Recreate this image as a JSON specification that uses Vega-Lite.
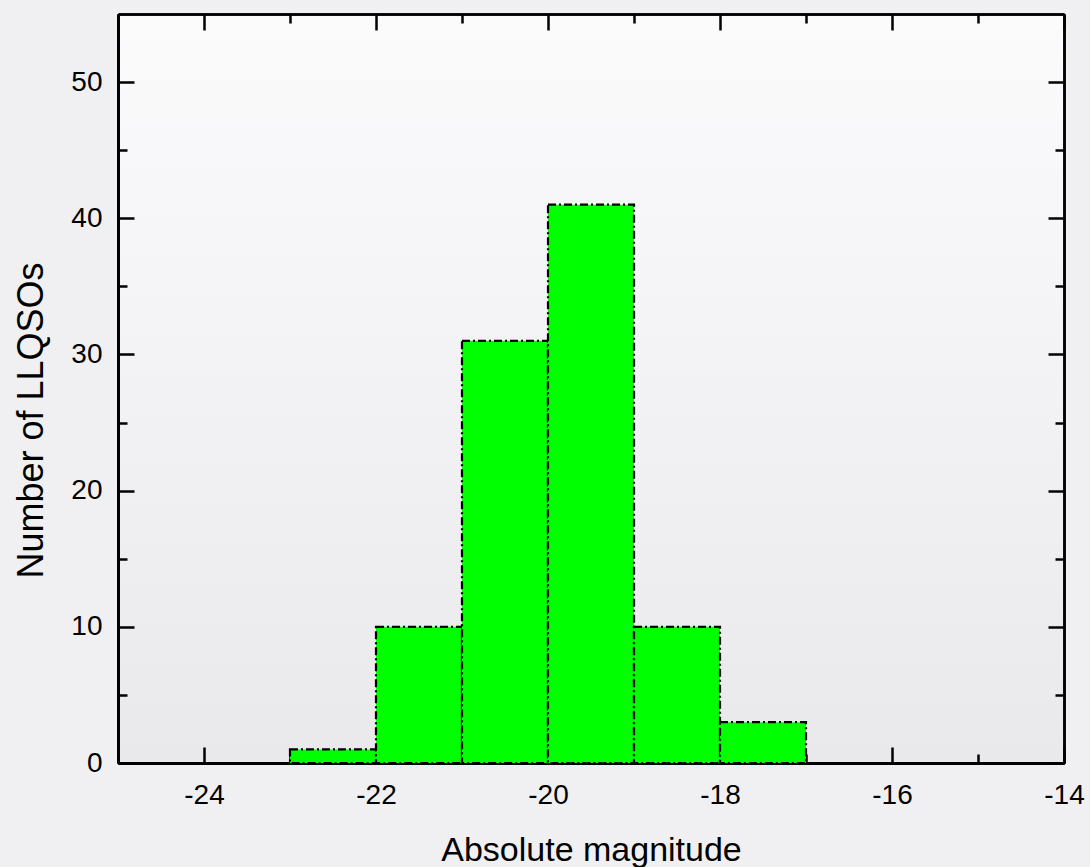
{
  "$schema": "https://vega.github.io/schema/vega-lite/v6.json",
  "autosize": {"type": "none"},
  "width": 946,
  "height": 749,
  "padding": {"left": 118, "top": 14, "right": 26, "bottom": 104},
  "background": "#f0f0f2",
  "config": {
    "view": {
      "stroke": null,
      "fill": {
        "gradient": "linear", "x1": 0, "y1": 0, "x2": 0, "y2": 1,
        "stops": [
          {"offset": 0, "color": "#fbfbfc"},
          {"offset": 0.3, "color": "#f6f6f8"},
          {"offset": 1, "color": "#e9e9ec"}
        ]
      }
    },
    "axis": {
      "domainColor": "#000000",
      "domainWidth": 2.5,
      "tickColor": "#000000",
      "tickWidth": 2.5,
      "labelFont": "Liberation Sans",
      "labelFontSize": 28,
      "labelColor": "#000000",
      "titleFont": "Liberation Sans",
      "titleFontWeight": "normal",
      "titleColor": "#000000",
      "grid": false
    }
  },
  "data": {
    "values": [
      {"lo": -23, "hi": -22, "count": 1},
      {"lo": -22, "hi": -21, "count": 10},
      {"lo": -21, "hi": -20, "count": 31},
      {"lo": -20, "hi": -19, "count": 41},
      {"lo": -19, "hi": -18, "count": 10},
      {"lo": -18, "hi": -17, "count": 3}
    ]
  },
  "resolve": {"axis": {"x": "independent", "y": "independent"}},
  "layer": [
    {
      "mark": {"type": "bar", "fill": "#00ff00", "stroke": "#000000", "strokeWidth": 2.2, "strokeDash": [8, 3, 2, 3], "opacity": 1},
      "encoding": {
        "x": {
          "field": "lo", "type": "quantitative",
          "scale": {"domain": [-25, -14], "nice": false, "zero": false},
          "axis": {
            "orient": "bottom",
            "title": "Absolute magnitude",
            "titleFontSize": 34,
            "titleBaseline": "alphabetic",
            "titleY": 97,
            "values": [-24, -22, -20, -18, -16, -14],
            "labelExpr": "toString(datum.value)",
            "labelBaseline": "alphabetic",
            "ticks": false,
            "labelPadding": 40,
            "labelFlush": false,
            "labelOverlap": false
          }
        },
        "x2": {"field": "hi"},
        "y": {
          "field": "count", "type": "quantitative",
          "scale": {"domain": [0, 55], "nice": false},
          "axis": {
            "orient": "left",
            "title": "Number of LLQSOs",
            "titleFontSize": 36,
            "titleBaseline": "alphabetic",
            "titleX": -76,
            "titleY": 406,
            "values": [0, 10, 20, 30, 40, 50],
            "labelExpr": "toString(datum.value)",
            "ticks": false,
            "labelPadding": 16,
            "labelFlush": false,
            "labelOverlap": false
          }
        },
        "y2": {"datum": 0}
      }
    },
    {
      "mark": {"type": "bar", "fillOpacity": 0, "strokeOpacity": 0},
      "encoding": {
        "x": {
          "field": "lo", "type": "quantitative",
          "axis": {"orient": "bottom", "title": null, "labels": false, "values": [-24, -22, -20, -18, -16, -14], "tickSize": -16}
        },
        "x2": {"field": "hi"},
        "y": {
          "field": "count", "type": "quantitative",
          "axis": {"orient": "left", "title": null, "labels": false, "values": [0, 10, 20, 30, 40, 50], "tickSize": -16}
        },
        "y2": {"datum": 0}
      }
    },
    {
      "mark": {"type": "bar", "fillOpacity": 0, "strokeOpacity": 0},
      "encoding": {
        "x": {
          "field": "lo", "type": "quantitative",
          "axis": {"orient": "bottom", "title": null, "labels": false, "values": [-23, -21, -19, -17, -15], "tickSize": -9}
        },
        "x2": {"field": "hi"},
        "y": {
          "field": "count", "type": "quantitative",
          "axis": {"orient": "left", "title": null, "labels": false, "values": [5, 15, 25, 35, 45], "tickSize": -9}
        },
        "y2": {"datum": 0}
      }
    },
    {
      "mark": {"type": "bar", "fillOpacity": 0, "strokeOpacity": 0},
      "encoding": {
        "x": {
          "field": "lo", "type": "quantitative",
          "axis": {"orient": "top", "title": null, "labels": false, "values": [-24, -22, -20, -18, -16, -14], "tickSize": -16}
        },
        "x2": {"field": "hi"},
        "y": {
          "field": "count", "type": "quantitative",
          "axis": {"orient": "right", "title": null, "labels": false, "values": [0, 10, 20, 30, 40, 50], "tickSize": -16}
        },
        "y2": {"datum": 0}
      }
    },
    {
      "mark": {"type": "bar", "fillOpacity": 0, "strokeOpacity": 0},
      "encoding": {
        "x": {
          "field": "lo", "type": "quantitative",
          "axis": {"orient": "top", "title": null, "labels": false, "values": [-23, -21, -19, -17, -15], "tickSize": -9}
        },
        "x2": {"field": "hi"},
        "y": {
          "field": "count", "type": "quantitative",
          "axis": {"orient": "right", "title": null, "labels": false, "values": [5, 15, 25, 35, 45], "tickSize": -9}
        },
        "y2": {"datum": 0}
      }
    }
  ]
}
